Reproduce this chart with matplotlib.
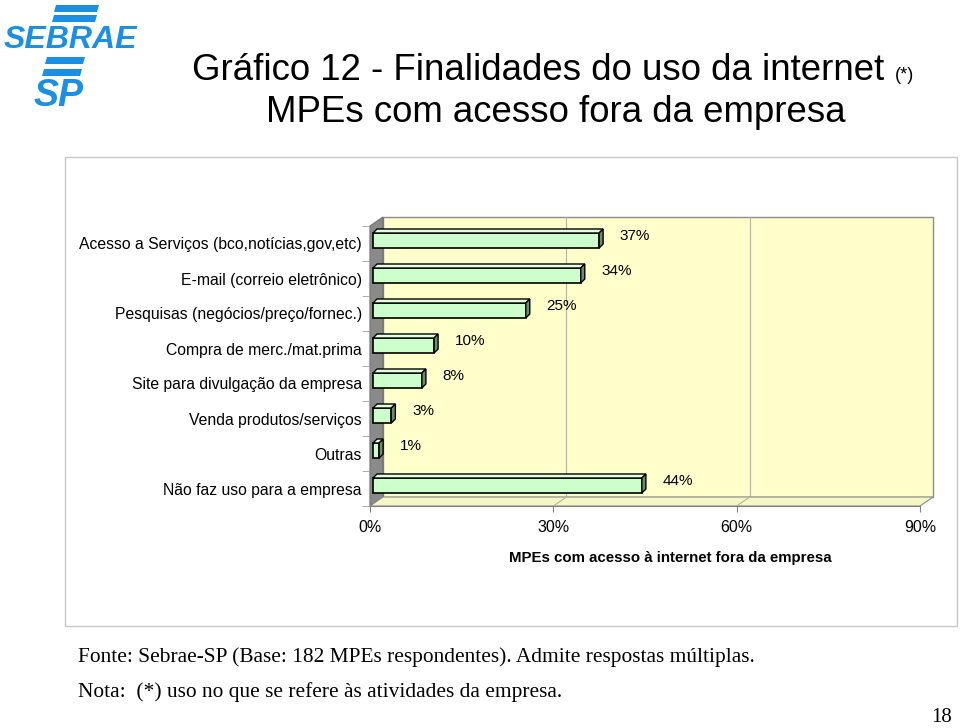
import numpy as np
import matplotlib.pyplot as plt
from matplotlib.patches import Rectangle, Polygon

plt.rcParams['font.family'] = ['Liberation Sans', 'DejaVu Sans']

categorias = [
    "Acesso a Serviços (bco,notícias,gov,etc)",
    "E-mail (correio eletrônico)",
    "Pesquisas (negócios/preço/fornec.)",
    "Compra de merc./mat.prima",
    "Site para divulgação da empresa",
    "Venda produtos/serviços",
    "Outras",
    "Não faz uso para a empresa",
]
valores = [37, 34, 25, 10, 8, 3, 1, 44]
ticks_x = [0, 30, 60, 90]
rotulos_x = ["0%", "30%", "60%", "90%"]

W, H = 960, 728
AZUL = '#1b8fe3'


def px(x, y):
    # pixel da imagem -> fracao da figura
    return x / W, 1 - y / H


fig = plt.figure(figsize=(9.6, 7.28), dpi=100)
fig.patch.set_facecolor('white')

# moldura do grafico
x0, y0 = px(65, 626)
fig.add_artist(Rectangle((x0, y0), 892 / W, 469 / H, transform=fig.transFigure,
                         fill=False, ec='#c8c8c8', lw=1))

ax = fig.add_axes([370 / W, 1 - 506 / H, 550 / W, 280 / H])
n = len(categorias)
ax.set_xlim(0, 90)
ax.set_ylim(n - 0.5, -0.5)
ax.patch.set_visible(False)

# unidades de dados por pixel
ux = 90 / 550
uy = n / 280

# profundidade das paredes
dx, dy = 13 * ux, 9 * uy
yt, yb = -0.5, n - 0.5

ax.add_patch(Rectangle((dx, yt - dy), 90, n, fc='#ffffcc', ec='#8c8c8c',
                       lw=1, clip_on=False, zorder=0))
ax.add_patch(Polygon([(0, yt), (dx, yt - dy), (dx, yb - dy), (0, yb)],
                     fc='#8a8a8a', ec='#6e6e6e', lw=0.8, clip_on=False, zorder=1))
ax.add_patch(Polygon([(0, yb), (90, yb), (90 + dx, yb - dy), (dx, yb - dy)],
                     fc='#f7f7c6', ec='#8c8c8c', lw=0.8, clip_on=False, zorder=1))
for t in ticks_x[1:-1]:
    ax.plot([t + dx, t + dx], [yt - dy, yb - dy], color='#b4b4a0', lw=0.8,
            clip_on=False, zorder=0.5)
    ax.plot([t, t + dx], [yb, yb - dy], color='#b4b4a0', lw=0.8,
            clip_on=False, zorder=1.5)

# barras 3D
y = np.arange(n)
bx = 3 * ux
yc = y - 3 * uy
h = 15 * uy
bdx, bdy = 4 * ux, 4 * uy

ax.barh(yc, valores, left=bx, height=h, color='#ccffcc', edgecolor='black',
        lw=1.2, zorder=3, clip_on=False)
for yy, v in zip(yc, valores):
    top = yy - h / 2
    ax.add_patch(Polygon([(bx, top), (bx + v, top), (bx + v + bdx, top - bdy),
                          (bx + bdx, top - bdy)],
                         fc='#e2ffe2', ec='black', lw=1, zorder=3, clip_on=False))
    ax.add_patch(Polygon([(bx + v, top), (bx + v, top + h),
                          (bx + v + bdx, top + h - bdy), (bx + v + bdx, top - bdy)],
                         fc='#6f8c6f', ec='black', lw=1, zorder=3, clip_on=False))
    ax.annotate(f"{v}%", xy=(bx + v, yy), xytext=(15, 3),
                textcoords='offset points', va='center', ha='left', fontsize=11)

# eixos
for s in ['top', 'right']:
    ax.spines[s].set_visible(False)
for s in ['left', 'bottom']:
    ax.spines[s].set_color('#808080')
    ax.spines[s].set_linewidth(0.8)
ax.set_xticks(ticks_x, rotulos_x)
ax.set_yticks(y, categorias)
ax.set_yticks(np.arange(-0.5, n), minor=True)
ax.tick_params(axis='x', length=4, color='#808080', labelsize=11.5, pad=6)
ax.tick_params(axis='y', which='major', length=0, labelsize=11.3, pad=6)
ax.tick_params(axis='y', which='minor', length=6, color='#a0a0a0')
ax.tick_params(axis='x', which='minor', length=0)

fig.text(*px(670, 558), "MPEs com acesso à internet fora da empresa",
         ha='center', va='center', fontsize=10.8, fontweight='bold')

# titulo
t1 = fig.text(*px(538, 70), "Gráfico 12 - Finalidades do uso da internet",
              ha='center', va='center', fontsize=26.4)
ax.annotate("(*)", xy=(1, 0.5), xycoords=t1, xytext=(8, -4),
            textcoords='offset points', ha='left', va='center', fontsize=13)
fig.text(*px(556, 113), "MPEs com acesso fora da empresa",
         ha='center', va='center', fontsize=26.4)

# rodape
fig.text(*px(78, 657), "Fonte: Sebrae-SP (Base: 182 MPEs respondentes). Admite respostas múltiplas.",
         ha='left', va='center', fontsize=15.4, family='Liberation Serif')
fig.text(*px(78, 692), "Nota:  (*) uso no que se refere às atividades da empresa.",
         ha='left', va='center', fontsize=15.4, family='Liberation Serif')
fig.text(*px(942, 718), "18", ha='center', va='center', fontsize=15,
         family='Liberation Serif')

# logotipo SEBRAE SP
faixas = [
    [(56, 5), (99, 5), (97, 12), (54, 12)],
    [(54, 15), (97, 15), (95, 22), (52, 22)],
    [(47, 57), (85, 57), (83, 64), (45, 64)],
    [(44, 69), (82, 69), (80, 76), (42, 76)],
]
for f in faixas:
    fig.add_artist(Polygon([px(a, b) for a, b in f], transform=fig.transFigure,
                           fc=AZUL, ec='none'))
fig.text(*px(4, 40), "SEBRAE", ha='left', va='center', fontsize=23,
         fontweight='bold', style='italic', color=AZUL)
fig.text(*px(34, 96), "SP", ha='left', va='center', fontsize=27,
         fontweight='bold', style='italic', color=AZUL)

fig.savefig('out.png', dpi=100)
